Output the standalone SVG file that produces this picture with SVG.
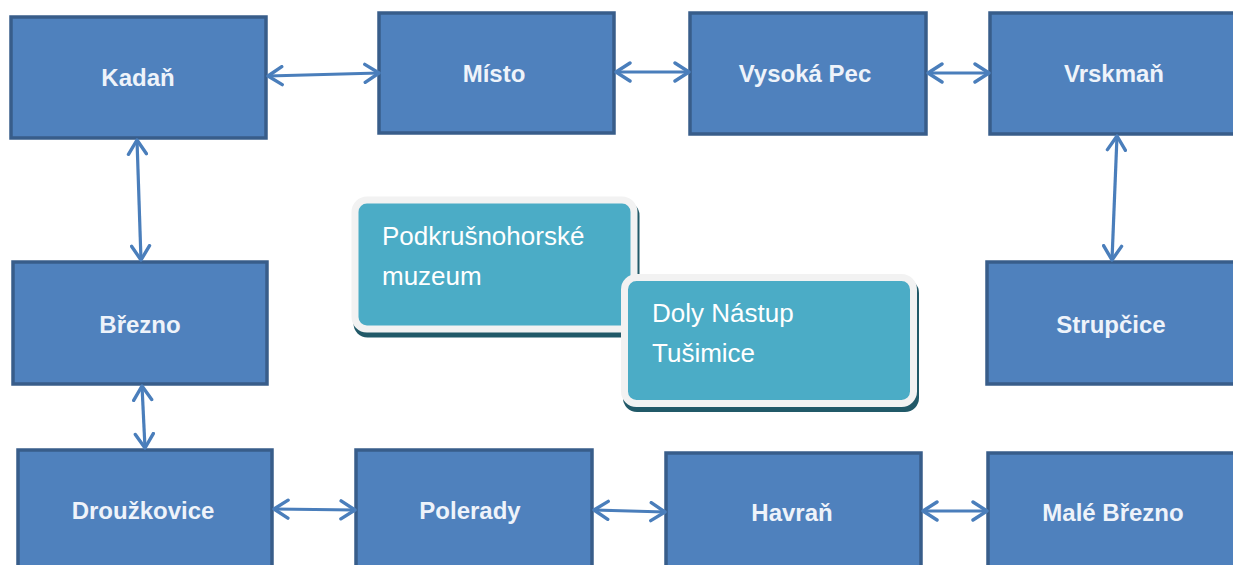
<svg xmlns="http://www.w3.org/2000/svg" width="1233" height="565" viewBox="0 0 1233 565">
<defs>
<style>
.node rect{fill:#4f81bd;stroke:#385d8a;stroke-width:3.5}
.node text{font-family:"Liberation Sans",Arial,sans-serif;font-weight:bold;font-size:24px;fill:#eef3fa;text-anchor:middle;dominant-baseline:central}
.conn line{stroke:#4a7ebb;stroke-width:3.2;fill:none;marker-start:url(#ah);marker-end:url(#ah)}
.call .sh{fill:#215968}
.call .bx{fill:#4bacc6;stroke:#f2f2f2;stroke-width:7}
.call text{font-family:"Liberation Sans",Arial,sans-serif;font-size:26px;fill:#ffffff}
</style>
<marker id="ah" viewBox="0 0 18 22" refX="16" refY="11" markerWidth="18" markerHeight="22" markerUnits="userSpaceOnUse" orient="auto-start-reverse">
<path d="M2,2 L16,11 L2,20" fill="none" stroke="#4a7ebb" stroke-width="3.4" stroke-linecap="round" stroke-linejoin="round"/>
</marker>
</defs>
<rect width="1233" height="565" fill="#ffffff"/>

<g id="kadan" class="node"><rect x="11" y="17" width="255" height="121"/><text x="138" y="77">Kadaň</text></g>
<g id="misto" class="node"><rect x="379" y="13" width="235" height="120"/><text x="494" y="73">Místo</text></g>
<g id="vysoka-pec" class="node"><rect x="690" y="13" width="236" height="121"/><text x="805" y="73">Vysoká Pec</text></g>
<g id="vrskman" class="node"><rect x="990" y="13" width="250" height="121"/><text x="1114" y="73">Vrskmaň</text></g>
<g id="brezno" class="node"><rect x="13" y="262" width="254" height="122"/><text x="140" y="324">Březno</text></g>
<g id="strupcice" class="node"><rect x="987" y="262" width="253" height="122"/><text x="1111" y="324">Strupčice</text></g>
<g id="drouzkovice" class="node"><rect x="18" y="450" width="254" height="125"/><text x="143" y="510">Droužkovice</text></g>
<g id="polerady" class="node"><rect x="356" y="450" width="236" height="125"/><text x="470" y="510">Polerady</text></g>
<g id="havran" class="node"><rect x="666" y="453" width="255" height="122"/><text x="792" y="512">Havraň</text></g>
<g id="male-brezno" class="node"><rect x="988" y="453" width="252" height="122"/><text x="1113" y="512">Malé Březno</text></g>

<g id="connectors" class="conn">
<line x1="268" y1="76" x2="379" y2="73"/>
<line x1="616" y1="72" x2="689" y2="72"/>
<line x1="928" y1="73" x2="989" y2="73"/>
<line x1="137" y1="140" x2="141" y2="260"/>
<line x1="1117" y1="136" x2="1112" y2="260"/>
<line x1="142" y1="386" x2="145" y2="448"/>
<line x1="274" y1="509" x2="355" y2="510"/>
<line x1="594" y1="510" x2="665" y2="512"/>
<line x1="923" y1="511" x2="987" y2="511"/>
</g>

<g id="podkrusnohorske-muzeum" class="call">
<rect class="sh" x="353.5" y="201.5" width="286" height="136" rx="14"/>
<rect class="bx" x="355" y="200" width="279" height="129" rx="12"/>
<text x="382" y="245">Podkrušnohorské</text>
<text x="382" y="285">muzeum</text>
</g>
<g id="doly-nastup-tusimice" class="call">
<rect class="sh" x="623" y="279" width="296" height="133" rx="14"/>
<rect class="bx" x="624.5" y="277.5" width="289" height="126" rx="12"/>
<text x="652" y="322">Doly Nástup</text>
<text x="652" y="362">Tušimice</text>
</g>
</svg>
